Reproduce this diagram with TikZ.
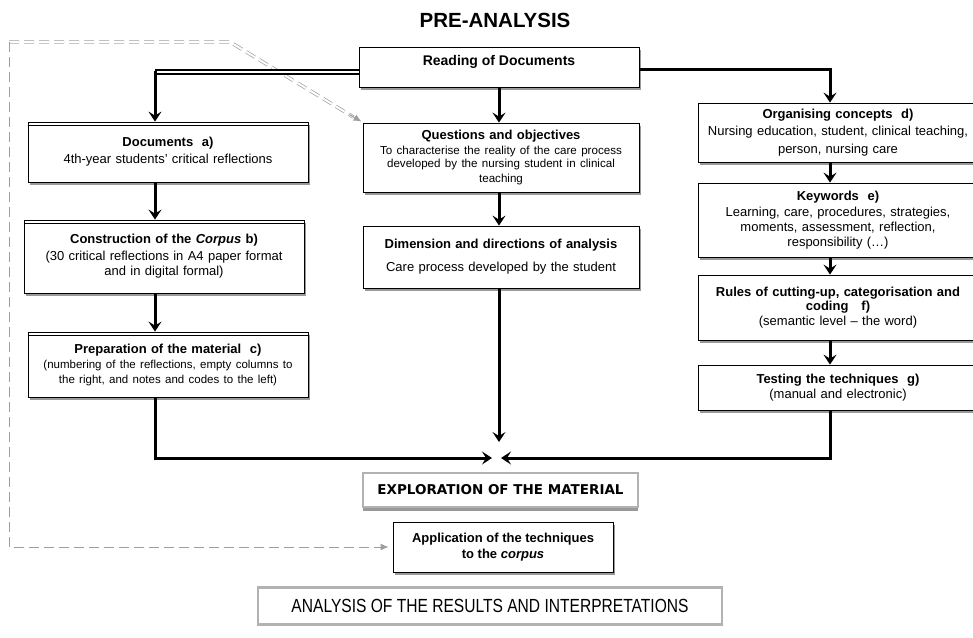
\documentclass[tikz,border=0pt]{standalone}
\usepackage{fontspec}
\setmainfont{Liberation Sans}
\newfontfamily\verdana{DejaVu Sans}
\newfontfamily\narrow[FakeStretch=0.82]{Liberation Sans}
\usetikzlibrary{arrows.meta,shadows,calc}
\tikzset{
frame/.style={draw,fill=white,line width=0.8pt,inner sep=0pt,
  drop shadow={shadow xshift=1.5pt,shadow yshift=-3pt,fill=black!40,opacity=1}},
box/.style={frame,minimum width=280pt,text width=272pt,align=center,font=\fontsize{13}{15}\selectfont},
greybox/.style={draw=black!30,fill=white,line width=2.5pt,inner sep=0pt},
arr/.style={->,line width=3pt},
gdash/.style={draw=black!38,line width=1pt,dash pattern=on 10pt off 5pt},
gtip/.style={-{Latex[length=8pt,width=7pt]},black!38,line width=1pt}
}
\begin{document}
\begin{tikzpicture}[x=1pt,y=-1pt,>={Stealth[length=10pt,width=13pt,inset=4pt]}]
\useasboundingbox (0,0) rectangle (973,637);
\clip (0,0) rectangle (973,637);
\node[font=\fontsize{20.5}{23}\selectfont\bfseries] (title) at (495,20) {PRE-ANALYSIS};
\node[frame,minimum width=280pt,minimum height=40pt,text depth=13pt,font=\fontsize{14}{16}\selectfont\bfseries] (read) at (499,67) {Reading of Documents};
\node[box,minimum height=60pt] (docs) at (168,152) {\textbf{Documents\ \ a)}\\[2pt] 4th-year students' critical reflections};
\node[box,minimum height=73pt] (corp) at (164,256.5) {\textbf{Construction of the \textit{Corpus} b)}\\[2pt] (30 critical reflections in A4 paper format\\ and in digital formal)};
\node[box,minimum height=65pt] (prep) at (168,364.5) {\textbf{Preparation of the material\ \ c)}\\[1pt] {\fontsize{11.5}{14}\selectfont (numbering of the reflections, empty columns to\\ the right, and notes and codes to the left)}};
\foreach \n in {docs,corp,prep}
  \draw[line width=0.5pt] ([yshift=-4pt]\n.north west) -- ([yshift=-4pt]\n.north east);
\node[box,minimum width=276pt,minimum height=69pt] (qst) at (501,157.5) {\textbf{Questions and objectives}\\[1pt] {\fontsize{11.6}{13.5}\selectfont To characterise the reality of the care process\\ developed by the nursing student in clinical\\ teaching}};
\node[box,minimum width=276pt,minimum height=62pt] (dim) at (501,257) {\textbf{Dimension and directions of analysis}\\[8pt] Care process developed by the student};
\node[box,minimum height=59pt] (orga) at (838,132.5) {\textbf{Organising concepts\ \ d)}\\[2pt] Nursing education, student, clinical teaching,\\[3pt] person, nursing care};
\node[box,minimum height=74pt] (keyw) at (838,220) {\textbf{Keywords\ \ e)}\\[1pt] Learning, care, procedures, strategies,\\ moments, assessment, reflection,\\ responsibility (\ldots)};
\node[box,minimum height=65pt] (rule) at (838,307.5) {\textbf{Rules of cutting-up, categorisation and\\[-1pt] coding\ \ \ f)}\\ (semantic level -- the word)};
\node[box,minimum height=45pt] (test) at (838,387.5) {\textbf{Testing the techniques\ \ g)}\\[0pt] (manual and electronic)};
\node[greybox,minimum width=275pt,minimum height=34pt,font=\verdana\fontsize{13.5}{15}\selectfont\bfseries,
  drop shadow={shadow xshift=0pt,shadow yshift=-4pt,fill=black!40,opacity=1}] (expl) at (500.5,490) {EXPLORATION OF THE MATERIAL};
\node[frame,minimum width=220pt,minimum height=50pt,align=center,font=\fontsize{13}{16}\selectfont\bfseries] (appl) at (503,547) {Application of the techniques\\ to the \textit{corpus}};
\node[greybox,minimum width=464pt,minimum height=37pt,font=\narrow\fontsize{19}{21}\selectfont] (anal) at (490,606) {ANALYSIS OF THE RESULTS AND INTERPRETATIONS};
\coordinate (lc) at (155,72);
\coordinate (rc) at (830,69);
\coordinate (meetT) at (499,442);
\coordinate (meetL) at (492,458);
\coordinate (meetR) at (501,458);
\coordinate (gtl) at (9,42);
\coordinate (gbend) at (230,42);
\draw[gdash,double,double distance=2pt,line width=0.7pt] (gtl) -- (gbend) -- ($(gbend)!0.93!(qst.north west)$);
\draw[gtip] ($(gbend)!0.9!(qst.north west)$) -- ([shift={(-1pt,1pt)}]qst.north west);
\draw[gdash] (gtl) |- ([xshift=-12pt]appl.west);
\draw[gtip] ([xshift=-14pt]appl.west) -- ([xshift=-4pt]appl.west);
\draw[line width=1.8pt,double,double distance=1.6pt] (read.west |- lc) -- (lc);
\draw[arr] ([yshift=1pt]lc) -- (docs.north -| lc);
\draw[arr] (read.east |- rc) -- (rc) -- (orga.north -| rc);
\draw[arr] (read.south) -- (read.south |- qst.north);
\draw[arr] (qst.south -| meetT) -- (dim.north -| meetT);
\draw[arr] (dim.south -| meetT) -- (meetT);
\draw[arr] (docs.south -| lc) -- (corp.north -| lc);
\draw[arr] (corp.south -| lc) -- (prep.north -| lc);
\draw[arr] (prep.south -| lc) |- (meetL);
\draw[arr] (orga.south -| rc) -- (keyw.north -| rc);
\draw[arr] (keyw.south -| rc) -- (rule.north -| rc);
\draw[arr] (rule.south -| rc) -- (test.north -| rc);
\draw[arr] (test.south -| rc) |- (meetR);
\end{tikzpicture}
\end{document}
